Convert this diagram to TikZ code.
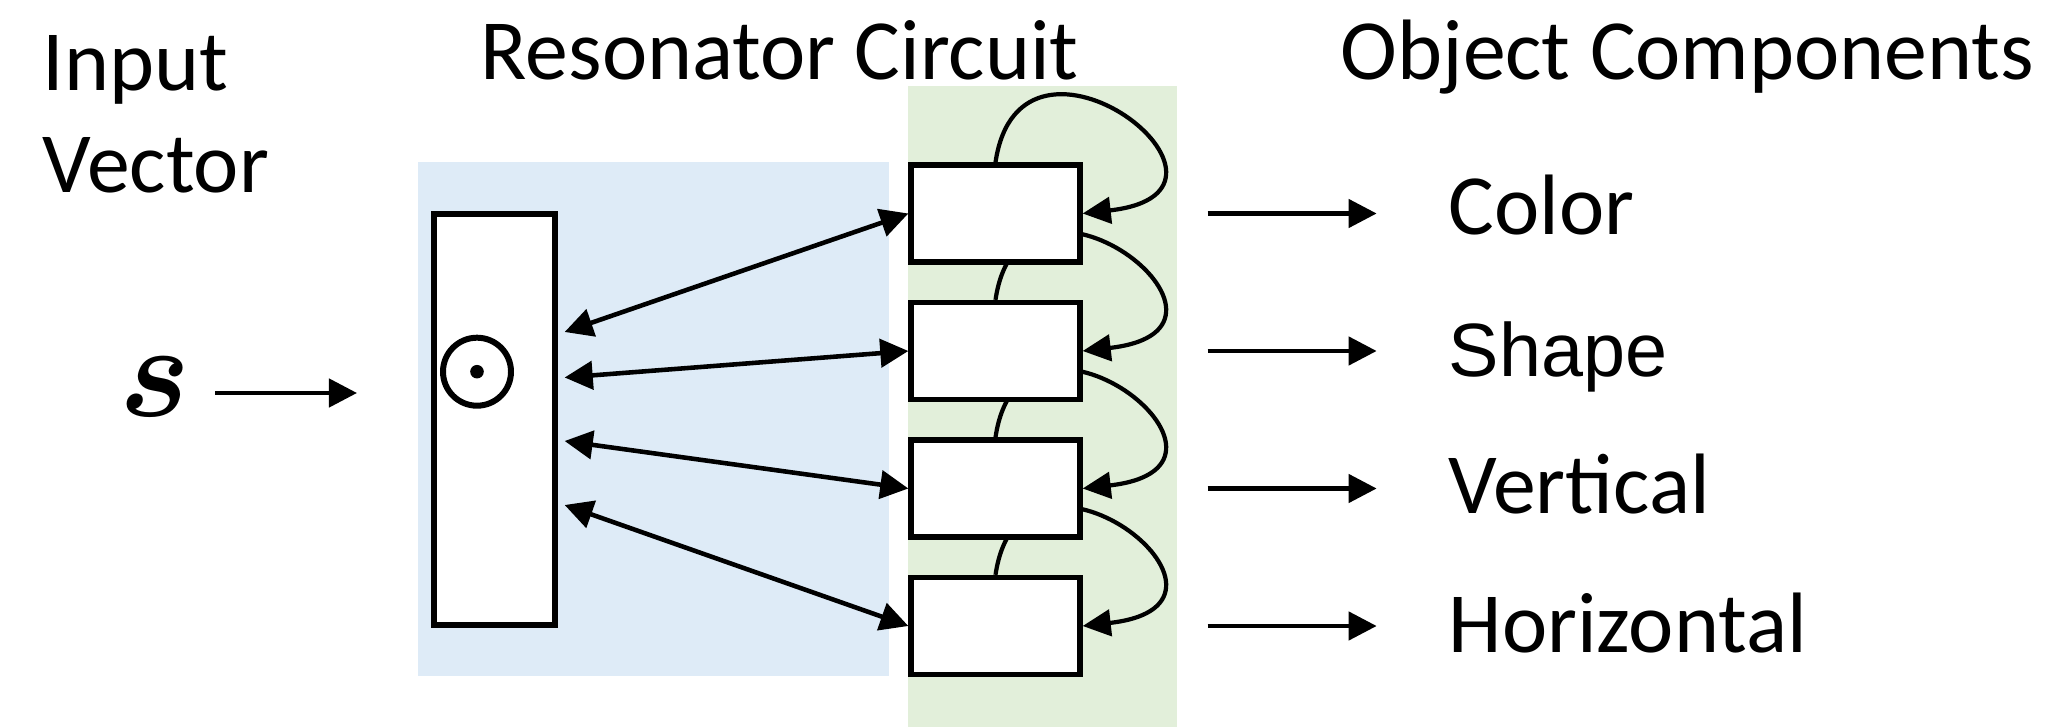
\documentclass[tikz,border=0pt]{standalone}
\usepackage{fix-cm}
\usepackage{amsmath}
\usepackage{fontspec}
\setmainfont{Carlito}
\newfontfamily\arialfont{Liberation Sans}
\usetikzlibrary{arrows.meta,positioning,calc,backgrounds}
\definecolor{paleblue}{HTML}{DEEBF7}
\definecolor{palegreen}{HTML}{E2EFDA}

\begin{document}
\begin{tikzpicture}[
  every node/.style={inner sep=0pt},
  big/.style={font=\fontsize{24.4}{29}\selectfont},
  unit/.style={draw, line width=1.5pt, fill=white, minimum width=1.69cm, minimum height=0.97cm},
  arr/.style={line width=1.3pt, -{Triangle[length=8pt,width=8pt]}},
  twoway/.style={line width=1.3pt, {Triangle[length=8pt,width=8pt]}-{Triangle[length=8pt,width=8pt]}},
  selfloop/.style={line width=1.2pt, -{Triangle[length=8pt,width=7.5pt]}}
]
\useasboundingbox (0,0) rectangle (20.49,7.27);

% headings
\node[big, align=left, anchor=north west] (inlab) at (0.42,6.92) {Input\\Vector};
\node[big, anchor=base west] (rclab) at (4.80,6.47) {Resonator Circuit};
\node[big, anchor=base west] (oclab) at (13.40,6.47) {Object Components};

% input vector
\node (vecs) at (1.55,3.40) {\fontsize{38}{44}\selectfont$\boldsymbol{s}$};
\coordinate (sin0) at (2.15,3.34);
\coordinate (sin1) at (3.57,3.34);
\draw[arr] (sin0) -- (sin1);

% binding unit
\node[draw, line width=1.5pt, fill=white, minimum width=1.21cm, minimum height=4.11cm] (bind) at (4.945,3.075) {};
\node[draw, circle, line width=1.7pt, minimum size=0.68cm] (odot) at (4.77,3.553) {};
\fill (odot.center) circle (0.068);

% resonator units
\foreach \i/\y in {1/5.135, 2/3.76, 3/2.385, 4/1.01}
  \node[unit] (b\i) at (9.955,\y) {};

% labels
\node[big, anchor=base west] (l1) at (14.48,4.92) {Color};
\node[font=\arialfont\fontsize{21.5}{26}\selectfont, anchor=base west] (l2) at (14.48,3.50) {Shape};
\node[big, anchor=base west] (l3) at (14.48,2.14) {Vertical};
\node[big, anchor=base west] (l4) at (14.48,0.75) {Horizontal};

\foreach \i/\dy in {1/0.875, 2/0.42, 3/-0.215, 4/-0.855}
  \draw[twoway] ($(bind.east)+(0.07,\dy)$) -- (b\i.west);

\foreach \i in {1,...,4}
  \draw[arr] ($(b\i.east)+(1.25,0)$) -- ($(b\i.east)+(2.94,0)$);

% panels and loops go underneath the boxes
\begin{scope}[on background layer]
  \fill[paleblue] (4.18,0.51) rectangle (8.89,5.65);
  \fill[palegreen] (9.08,0) rectangle (11.77,6.41);
  \foreach \i in {1,...,4}
    \draw[selfloop] (b\i.north) .. controls +(0.25,1.7) and +(1.95,0.22) .. (b\i.east);
\end{scope}
\end{tikzpicture}
\end{document}
